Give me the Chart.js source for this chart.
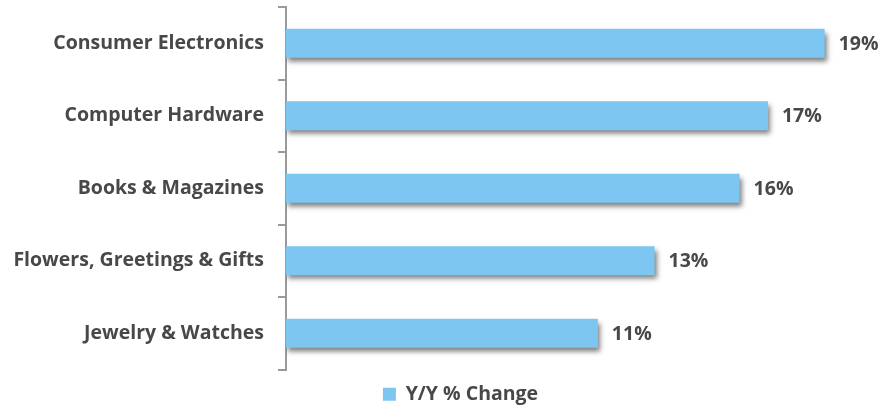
<!DOCTYPE html>
<html>
<head>
<meta charset="utf-8">
<script src="https://cdn.jsdelivr.net/npm/chart.js@4.4.0/dist/chart.umd.min.js"></script>
<style>
  html, body { margin: 0; padding: 0; background: #fff; }
  #wrap { width: 883px; height: 409px; position: relative; }
</style>
</head>
<body>
<div id="wrap"><canvas id="salesChart"></canvas></div>
<script>
const categories = ["Consumer Electronics", "Computer Hardware", "Books & Magazines", "Flowers, Greetings & Gifts", "Jewelry & Watches"];
const yoyChange = [19, 17, 16, 13, 11];
const seriesName = "Y/Y % Change";

const barColor = "#7dc6f1";
const textColor = "#484848";
const fontFamily = "'Open Sans', sans-serif";
const fontSize = 19.5;

// soft shadow under the bars
const barShadow = {
  id: "barShadow",
  beforeDatasetsDraw(chart) {
    const c = chart.ctx;
    c.save();
    c.shadowColor = "rgba(0,0,0,0.5)";
    c.shadowBlur = 5;
    c.shadowOffsetX = 2;
    c.shadowOffsetY = 4;
  },
  afterDatasetsDraw(chart) {
    chart.ctx.restore();
  }
};

// value labels at bar ends
const valueLabels = {
  id: "valueLabels",
  afterDraw(chart) {
    const c = chart.ctx;
    const meta = chart.getDatasetMeta(0);
    c.save();
    c.fillStyle = textColor;
    c.font = "bold " + fontSize + "px " + fontFamily;
    c.textAlign = "left";
    c.textBaseline = "middle";
    meta.data.forEach((bar, i) => {
      c.fillText(yoyChange[i] + "%", bar.x + 14, bar.y + 1);
    });
    c.restore();
  }
};

// legend sits a bit right of centre and lower in the original
const legendNudge = {
  id: "legendNudge",
  afterLayout(chart) {
    const lg = chart.legend;
    lg.left += 34;
    lg.right += 34;
    lg.top += 5;
    lg.bottom += 5;
  }
};

new Chart(document.getElementById("salesChart"), {
  type: "bar",
  data: {
    labels: categories,
    datasets: [{
      label: seriesName,
      data: yoyChange,
      backgroundColor: barColor,
      borderWidth: 0,
      categoryPercentage: 0.4,
      barPercentage: 1
    }]
  },
  options: {
    indexAxis: "y",
    responsive: true,
    maintainAspectRatio: false,
    animation: false,
    layout: { padding: { top: 7, right: 30, bottom: 0, left: 0 } },
    plugins: {
      tooltip: { enabled: false },
      legend: {
        position: "bottom",
        labels: {
          color: textColor,
          font: { family: fontFamily, size: fontSize, weight: "bold" },
          boxWidth: 13,
          boxHeight: 13,
          padding: 10
        }
      }
    },
    scales: {
      x: {
        display: false,
        min: 0,
        max: 20
      },
      y: {
        afterFit(scale) {
          scale.width = 286;
          scale.paddingTop = 0;
          scale.paddingBottom = 0;
        },
        border: { color: "#9a9a9a", width: 2 },
        grid: {
          offset: true,
          drawOnChartArea: false,
          drawTicks: true,
          tickLength: 8,
          color: "#9a9a9a",
          lineWidth: 2
        },
        ticks: {
          color: textColor,
          padding: 14,
          font: { family: fontFamily, size: fontSize, weight: "bold" }
        }
      }
    }
  },
  plugins: [barShadow, valueLabels, legendNudge]
});
</script>
</body>
</html>
